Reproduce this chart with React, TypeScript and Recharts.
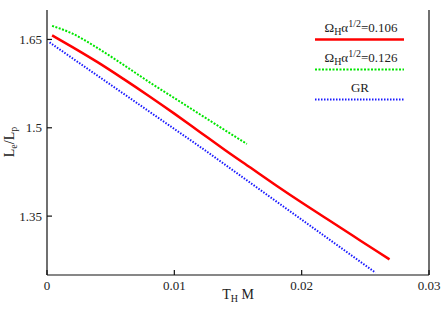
import { LineChart, Line, XAxis, YAxis, Label } from "recharts";

// T_H M values and L_e/L_p for each curve
const redT = [0.0004, 0.002, 0.004, 0.006, 0.008, 0.01, 0.012, 0.014, 0.016, 0.018, 0.02, 0.022, 0.024, 0.026, 0.0269];
const redL = [1.657, 1.637, 1.611, 1.583, 1.554, 1.524, 1.493, 1.462, 1.432, 1.402, 1.373, 1.345, 1.317, 1.289, 1.2765];

const greenT = [0.0004, 0.002, 0.004, 0.006, 0.008, 0.01, 0.012, 0.014, 0.0157];
const greenL = [1.673, 1.66, 1.635, 1.607, 1.578, 1.5505, 1.523, 1.4955, 1.4725];

const blueT = [0.0002, 0.002, 0.004, 0.006, 0.008, 0.01, 0.012, 0.014, 0.016, 0.018, 0.02, 0.022, 0.024, 0.0258];
const blueL = [1.645, 1.618, 1.588, 1.558, 1.528, 1.498, 1.468, 1.437, 1.406, 1.375, 1.344, 1.313, 1.282, 1.254];

const xTicks = [0, 0.01, 0.02, 0.03];
const yTicks = [1.35, 1.5, 1.65];

const zip = (t: number[], l: number[]) => t.map((v, i) => ({ t: v, l: l[i] }));

const FONT = "Liberation Serif, DejaVu Serif, serif";
const txt = { fontFamily: FONT, fill: "#222" };

const XTick = ({ x, y, payload }: any) => (
  <text x={x} y={y} dy="0.71em" textAnchor="middle" fontSize={13} style={txt}>
    {payload.value}
  </text>
);

const YTick = ({ x, y, payload }: any) => (
  <text x={x} y={y} dy="0.355em" textAnchor="end" fontSize={13} style={txt}>
    {payload.value}
  </text>
);

function LegendBox() {
  const rows = [
    { label: "0.106", color: "#ff0000", dash: undefined, w: 2.5 },
    { label: "0.126", color: "#00e600", dash: "2 1.5", w: 2 },
    { label: "GR", color: "#1a1aff", dash: "1.5 1.5", w: 2 },
  ];
  return (
    <svg width={100} height={95} style={{ fontFamily: FONT, display: "block" }}>
      {rows.map((r, i) => (
        <g key={i}>
          {r.label === "GR" ? (
            <text x={50} y={17 + i * 30} textAnchor="middle" fontSize={13} style={txt}>
              GR
            </text>
          ) : (
            <text x={51} y={17 + i * 30} textAnchor="middle" fontSize={13} style={txt}>
              Ω<tspan dy={3} fontSize={10}>H</tspan>
              <tspan dy={-3}>α</tspan>
              <tspan dy={-5} fontSize={10}>1/2</tspan>
              <tspan dy={5}>={r.label}</tspan>
            </text>
          )}
          <line
            x1={5}
            x2={94}
            y1={24.5 + i * 30}
            y2={24.5 + i * 30}
            stroke={r.color}
            strokeWidth={r.w}
            strokeDasharray={r.dash}
          />
        </g>
      ))}
    </svg>
  );
}

export default function App() {
  return (
    <div style={{ position: "absolute", left: 0, top: 0, background: "#fff", fontFamily: FONT }}>
      <LineChart width={445} height={312} margin={{ top: 10, right: 0, bottom: 0, left: 0 }}>
        <XAxis
          type="number"
          dataKey="t"
          domain={[0, 0.03]}
          ticks={xTicks}
          allowDataOverflow
          height={37}
          tick={<XTick />}
          tickSize={-5}
          tickMargin={11}
          stroke="#111"
          strokeWidth={1.2}
        >
          <Label
            content={() => (
              <text x={238} y={299} textAnchor="middle" fontSize={14} style={txt}>
                T<tspan dy={3} fontSize={10}>H</tspan>
                <tspan dy={-3}> M</tspan>
              </text>
            )}
          />
        </XAxis>
        <XAxis
          xAxisId="top"
          orientation="top"
          type="number"
          dataKey="t"
          domain={[0, 0.03]}
          ticks={xTicks}
          height={0}
          tickSize={-5}
          tickFormatter={() => ""}
          stroke="#111"
          strokeWidth={1.2}
        />
        <YAxis
          type="number"
          domain={[1.25, 1.7]}
          ticks={yTicks}
          allowDataOverflow
          width={47}
          tick={<YTick />}
          tickSize={-5}
          tickMargin={10}
          stroke="#111"
          strokeWidth={1.2}
        >
          <Label
            content={() => (
              <text
                x={14}
                y={142}
                transform="rotate(-90 14 142)"
                textAnchor="middle"
                fontSize={14}
                style={txt}
              >
                L<tspan dy={3} fontSize={10}>e</tspan>
                <tspan dy={-3}>/L</tspan>
                <tspan dy={3} fontSize={10}>p</tspan>
              </text>
            )}
          />
        </YAxis>
        <YAxis
          yAxisId="right"
          orientation="right"
          type="number"
          domain={[1.25, 1.7]}
          ticks={yTicks}
          width={16}
          tickSize={-5}
          tickFormatter={() => ""}
          stroke="#111"
          strokeWidth={1.2}
        />
        <Line
          data={zip(blueT, blueL)}
          dataKey="l"
          type="monotone"
          stroke="#1a1aff"
          strokeWidth={2}
          strokeDasharray="1.5 1.5"
          dot={false}
          isAnimationActive={false}
        />
        <Line
          data={zip(greenT, greenL)}
          dataKey="l"
          type="monotone"
          stroke="#00e600"
          strokeWidth={2}
          strokeDasharray="2 1.5"
          dot={false}
          isAnimationActive={false}
        />
        <Line
          data={zip(redT, redL)}
          dataKey="l"
          type="monotone"
          stroke="#ff0000"
          strokeWidth={2.5}
          dot={false}
          isAnimationActive={false}
        />
      </LineChart>
      <div style={{ position: "absolute", left: 310, top: 15 }}>
        <LegendBox />
      </div>
    </div>
  );
}
